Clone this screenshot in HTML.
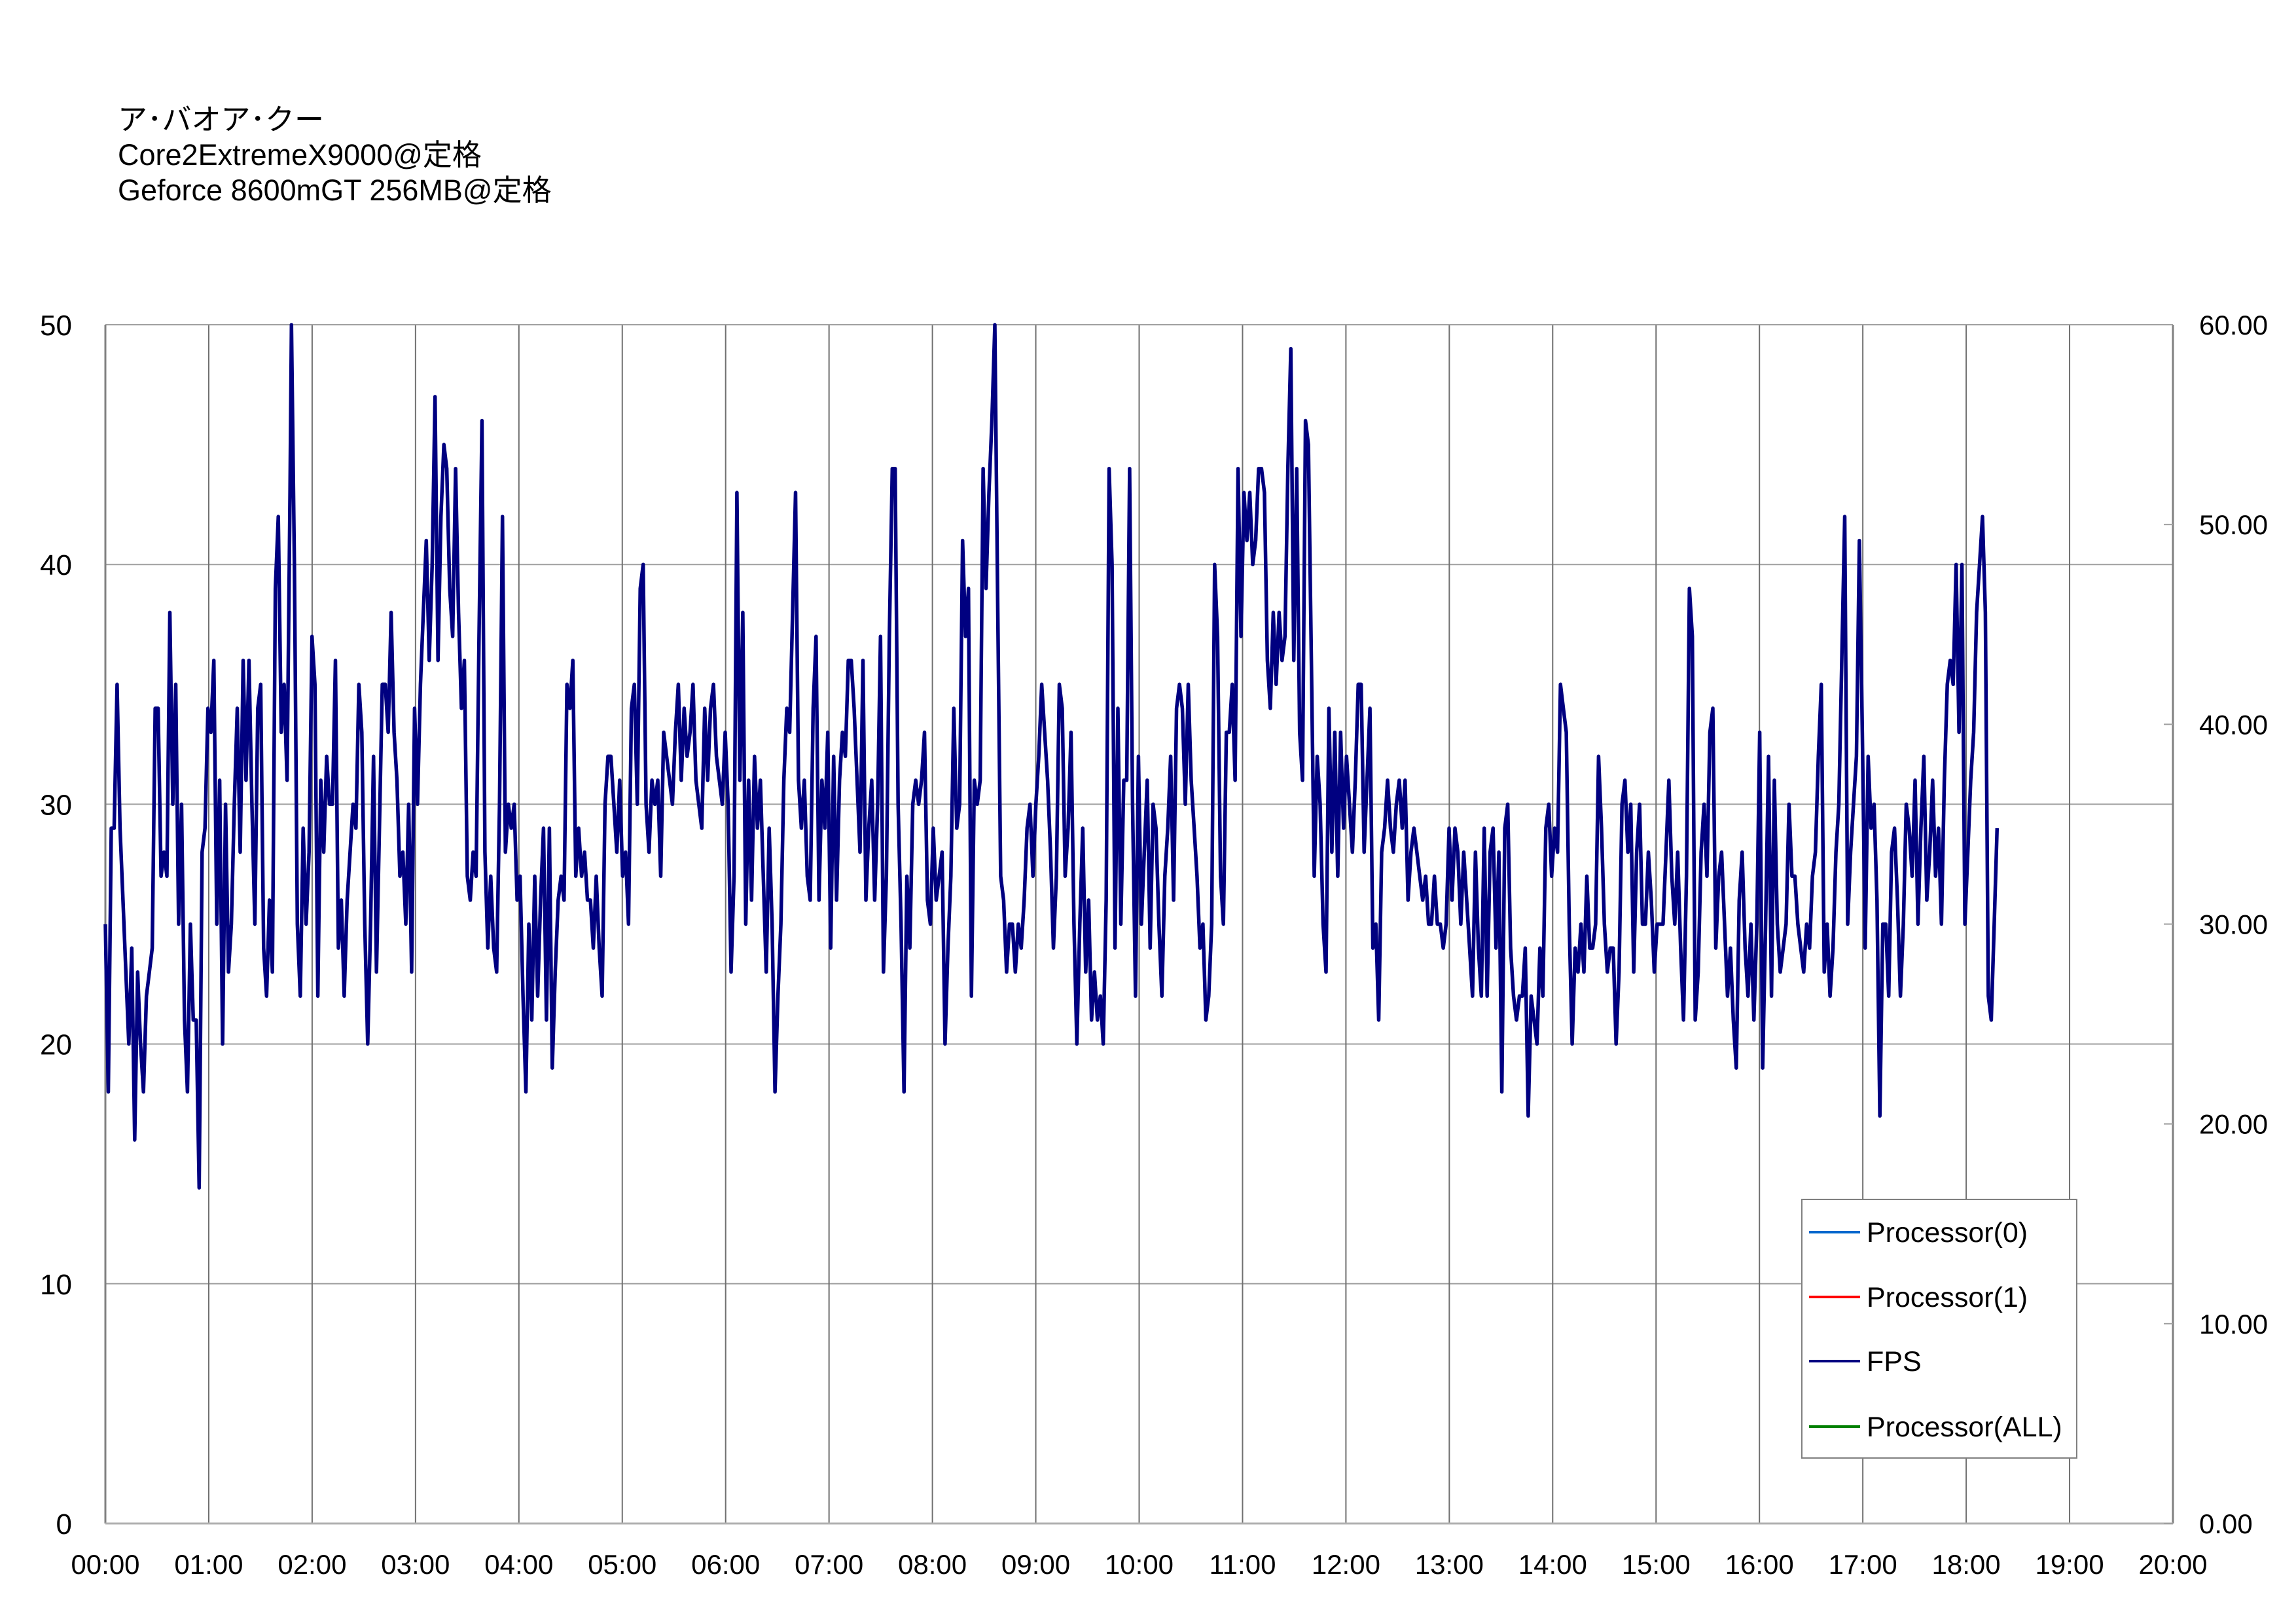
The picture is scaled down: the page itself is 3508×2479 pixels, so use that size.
<!DOCTYPE html>
<html><head><meta charset="utf-8"><style>
html,body{margin:0;padding:0;background:#fff;}
svg{display:block;}
text{font-family:"Liberation Sans","Noto Sans CJK JP",sans-serif;fill:#000;}
</style></head><body>
<svg id="s" width="3508" height="2479" viewBox="0 0 3508 2479" xmlns="http://www.w3.org/2000/svg">
<rect width="3508" height="2479" fill="#fff"/>
<text x="180" y="198" font-size="45">ア･バオア･クー</text>
<text x="180" y="252" font-size="45">Core2ExtremeX9000@定格</text>
<text x="180" y="306" font-size="45">Geforce 8600mGT 256MB@定格</text>
<g id="grid"></g>
<polyline id="fps" fill="none" stroke="#000080" stroke-width="5.5" stroke-linejoin="round"/>
<rect x="2753" y="1832" width="420" height="395" fill="#fff" stroke="#808080" stroke-width="2"/>
<line x1="2764" y1="1882" x2="2842" y2="1882" stroke="#0066cc" stroke-width="4"/>
<line x1="2764" y1="1981" x2="2842" y2="1981" stroke="#ff0000" stroke-width="4"/>
<line x1="2764" y1="2079" x2="2842" y2="2079" stroke="#000080" stroke-width="4"/>
<line x1="2764" y1="2179" x2="2842" y2="2179" stroke="#008000" stroke-width="4"/>
<text x="2852" y="1897" font-size="43">Processor(0)</text>
<text x="2852" y="1996" font-size="43">Processor(1)</text>
<text x="2852" y="2094" font-size="43">FPS</text>
<text x="2852" y="2194" font-size="43">Processor(ALL)</text>
</svg>
<script>
(function(){
var NS="http://www.w3.org/2000/svg",g=document.getElementById("grid");
function el(n,a,t){var e=document.createElementNS(NS,n);for(var k in a)e.setAttribute(k,a[k]);if(t!==undefined)e.textContent=t;g.appendChild(e);return e;}
var L=161,R=3320,T=496,B=2327,H=(R-L)/20;
for(var i=1;i<5;i++){var y=B-i*10*36.62;el("line",{x1:L,y1:y,x2:R,y2:y,stroke:"#a0a0a0","stroke-width":2});}
for(var i=1;i<20;i++){var x=L+i*H;el("line",{x1:x,y1:T,x2:x,y2:B,stroke:"#707070","stroke-width":2});}
el("line",{x1:L,y1:T,x2:R,y2:T,stroke:"#a0a0a0","stroke-width":2});
el("line",{x1:L,y1:T,x2:L,y2:B,stroke:"#808080","stroke-width":3});
el("line",{x1:R,y1:T,x2:R,y2:B,stroke:"#808080","stroke-width":3});
el("line",{x1:L,y1:B,x2:R,y2:B,stroke:"#b0b0b0","stroke-width":3});
for(var i=0;i<=5;i++){el("text",{x:110,y:B-i*366.2+16,"font-size":44,"text-anchor":"end"},String(i*10));}
for(var i=0;i<=6;i++){var y=B-i*1831/6;el("line",{x1:R-14,y1:y,x2:R,y2:y,stroke:"#a0a0a0","stroke-width":2});el("text",{x:3360,y:y+15,"font-size":42},(i*10).toFixed(2));}
for(var i=0;i<=20;i++){var x=L+i*H;el("text",{x:x,y:2404,"font-size":42,"text-anchor":"middle"},(i<10?"0":"")+i+":00");}
var d=[25,18,29,29,35,29,26,23,20,24,16,23,20,18,22,23,24,34,34,27,28,27,38,30,35,25,30,21,18,25,21,21,14,28,29,34,33,36,25,31,20,30,23,25,30,34,28,36,31,36,30,25,34,35,24,22,26,23,39,42,33,35,31,43,50,40,25,22,29,25,28,37,35,22,31,28,32,30,30,36,24,26,22,26,28,30,29,35,33,25,20,25,32,23,29,35,35,33,38,33,31,27,28,25,30,23,34,30,35,38,41,36,40,47,36,42,45,44,39,37,44,38,34,36,27,26,28,27,37,46,28,24,27,24,23,30,42,28,30,29,30,26,27,22,18,25,21,27,22,26,29,21,29,19,23,26,27,26,35,34,36,27,29,27,28,26,26,24,27,24,22,30,32,32,30,28,31,27,28,25,34,35,30,39,40,30,28,31,30,31,27,33,32,31,30,33,35,31,34,32,33,35,31,30,29,34,31,34,35,32,31,30,33,30,23,27,43,31,38,25,31,26,32,29,31,27,23,29,25,18,22,25,31,34,33,38,43,31,29,31,27,26,34,37,26,31,29,33,24,32,26,31,33,32,36,36,34,31,28,36,26,29,31,26,30,37,23,27,37,44,44,30,25,18,27,24,30,31,30,31,33,26,25,29,26,27,28,20,24,27,34,29,30,41,37,39,22,31,30,31,44,39,43,46,50,38,27,26,23,25,25,23,25,24,26,29,30,27,30,32,35,33,31,28,24,27,35,34,27,29,33,25,20,25,29,23,26,21,23,21,22,20,26,44,40,24,34,25,31,31,44,30,22,32,25,28,31,24,30,29,25,22,27,29,32,26,34,35,34,30,35,31,29,27,24,25,21,22,25,40,37,27,25,33,33,35,31,44,37,43,41,43,40,41,44,44,43,36,34,38,35,38,36,37,44,49,36,44,33,31,46,45,36,27,32,30,25,23,34,28,33,27,33,29,32,30,28,31,35,35,28,31,34,24,25,21,28,29,31,29,28,30,31,29,31,26,28,29,28,27,26,27,25,25,27,25,25,24,25,29,26,29,28,25,28,26,24,22,28,24,22,29,22,28,29,24,28,18,29,30,24,22,21,22,22,24,17,22,21,20,24,22,29,30,27,29,28,35,34,33,25,20,24,23,25,23,27,24,24,25,32,29,25,23,24,24,20,23,30,31,28,30,23,28,30,25,25,28,26,23,25,25,25,28,31,27,25,28,24,21,27,39,37,21,23,28,30,27,33,34,24,27,28,25,22,24,21,19,26,28,24,22,25,21,25,33,19,25,32,22,31,25,23,24,25,30,27,27,25,24,23,25,24,27,28,32,35,23,25,22,24,28,30,36,42,25,28,30,32,41,33,24,32,29,30,26,17,25,25,22,28,29,26,22,25,30,29,27,31,25,29,32,26,28,31,27,29,25,31,35,36,35,40,33,40,25,28,31,33,38,40,42,38,22,21,25,29];
var p=[];for(var i=0;i<d.length;i++){var tx=72+i*2;if(i>=64)tx=72+i*2-1;var x=L+(tx-72)*(3159/1411);p.push(x.toFixed(1)+","+(B-d[i]*36.62).toFixed(1));}
document.getElementById("fps").setAttribute("points",p.join(" "));
})();
</script>
</body></html>
